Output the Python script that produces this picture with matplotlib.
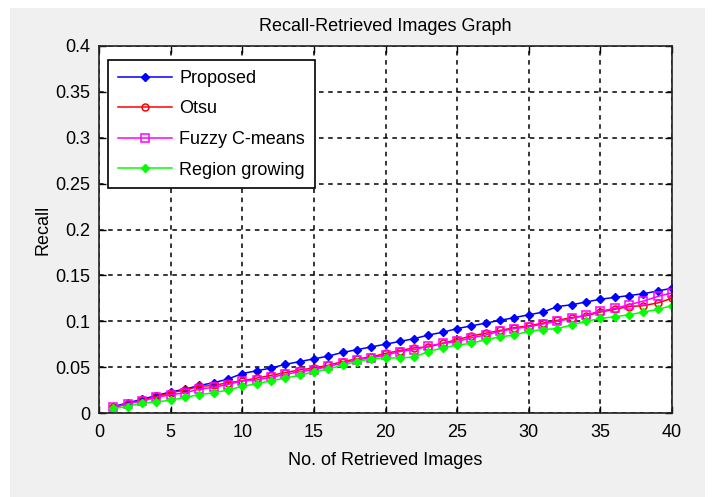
import matplotlib
matplotlib.use("Agg")
import matplotlib.pyplot as plt
from matplotlib.patches import Rectangle

# number of retrieved images
n_images = list(range(1, 41))

recall_proposed = [0.007, 0.011, 0.015, 0.019, 0.023, 0.026, 0.030, 0.033, 0.037, 0.043,
                   0.046, 0.049, 0.053, 0.056, 0.059, 0.062, 0.066, 0.069, 0.072, 0.075,
                   0.078, 0.081, 0.085, 0.088, 0.092, 0.095, 0.098, 0.101, 0.104, 0.107,
                   0.110, 0.116, 0.118, 0.121, 0.124, 0.126, 0.128, 0.130, 0.133, 0.136]
recall_otsu = [0.006, 0.010, 0.014, 0.018, 0.022, 0.025, 0.029, 0.030, 0.033, 0.035,
               0.038, 0.041, 0.044, 0.047, 0.049, 0.052, 0.056, 0.059, 0.061, 0.065,
               0.068, 0.071, 0.072, 0.076, 0.080, 0.084, 0.087, 0.090, 0.093, 0.095,
               0.098, 0.101, 0.104, 0.106, 0.110, 0.113, 0.116, 0.117, 0.120, 0.125]
recall_fcm = [0.006, 0.010, 0.013, 0.017, 0.020, 0.022, 0.026, 0.028, 0.031, 0.035,
              0.036, 0.039, 0.042, 0.045, 0.047, 0.051, 0.054, 0.058, 0.060, 0.063,
              0.067, 0.069, 0.073, 0.076, 0.078, 0.082, 0.085, 0.089, 0.092, 0.094,
              0.097, 0.100, 0.103, 0.107, 0.111, 0.114, 0.118, 0.122, 0.127, 0.131]
recall_region = [0.005, 0.007, 0.011, 0.012, 0.014, 0.017, 0.020, 0.022, 0.025, 0.029,
                 0.032, 0.035, 0.038, 0.041, 0.045, 0.048, 0.052, 0.056, 0.059, 0.060,
                 0.060, 0.061, 0.067, 0.071, 0.074, 0.076, 0.080, 0.083, 0.085, 0.089,
                 0.091, 0.092, 0.096, 0.100, 0.103, 0.105, 0.107, 0.110, 0.113, 0.117]

x_ticks = [0, 5, 10, 15, 20, 25, 30, 35, 40]
y_ticks = [0, 0.05, 0.1, 0.15, 0.2, 0.25, 0.3, 0.35, 0.4]
y_tick_labels = ["0", "0.05", "0.1", "0.15", "0.2", "0.25", "0.3", "0.35", "0.4"]

plt.rcParams["font.family"] = ["Liberation Sans", "DejaVu Sans"]

fig = plt.figure(figsize=(7.16, 4.97), dpi=100, facecolor="white")
# grey MATLAB-like window area
fig.patches.append(Rectangle((10 / 716, 0), 695 / 716, 1 - 8 / 497,
                             transform=fig.transFigure, facecolor="#f0f0f0",
                             edgecolor="none", zorder=-10))

ax = fig.add_axes([99 / 716, 1 - 413 / 497, 573 / 716, 367 / 497])
ax.set_facecolor("white")

ax.plot(n_images, recall_proposed, "-D", color="#0000ff", ms=4.5, lw=1.1, label="Proposed")
ax.plot(n_images, recall_otsu, "-o", color="#ff0000", mfc="none", ms=5, mew=1.1, lw=1.1, label="Otsu")
ax.plot(n_images, recall_fcm, "-s", color="#ff00ff", mfc="none", ms=5.5, mew=1.1, lw=1.1, label="Fuzzy C-means")
ax.plot(n_images, recall_region, "-D", color="#00ff00", ms=4.5, lw=1.1, label="Region growing")

ax.set_xlim(0, 40)
ax.set_ylim(0, 0.4)
ax.set_xticks(x_ticks)
ax.set_yticks(y_ticks)
ax.set_yticklabels(y_tick_labels)
ax.tick_params(direction="in", top=True, right=True, length=5, width=1,
               labelsize=13, colors="black")
ax.tick_params(axis="x", pad=8)
ax.tick_params(axis="y", pad=6)
ax.grid(True, color="black", linestyle=(0, (3, 3)), linewidth=1.1)
for s in ax.spines.values():
    s.set_linewidth(1.2)
    s.set_color("#222222")

ax.set_title("Recall-Retrieved Images Graph", fontsize=13, pad=11)
ax.set_xlabel("No. of Retrieved Images", fontsize=13, labelpad=8)
ax.set_ylabel("Recall", fontsize=13, labelpad=3)

leg = ax.legend(loc="upper left", bbox_to_anchor=(9 / 573, 1 - 14 / 367), borderaxespad=0,
                fancybox=False, framealpha=1, edgecolor="black", fontsize=13,
                handlelength=3.0, labelspacing=0.75, borderpad=0.55, handletextpad=0.4)
leg.get_frame().set_linewidth(1.2)

fig.savefig("out.png", dpi=100, facecolor=fig.get_facecolor())
